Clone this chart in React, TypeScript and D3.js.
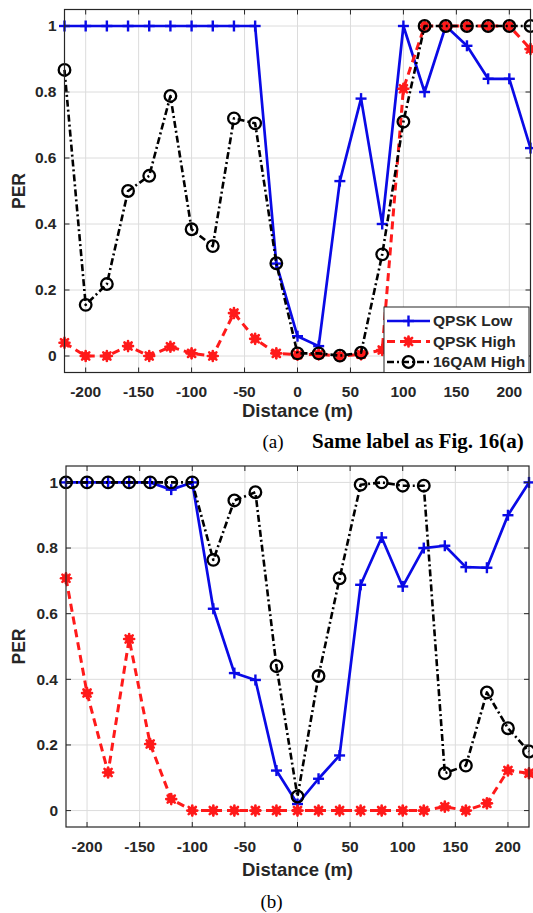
import React from "react";
import * as d3 from "d3";

// ---------- DATA ----------
const distances = [-220, -200, -180, -160, -140, -120, -100, -80, -60, -40, -20, 0, 20, 40, 60, 80, 100, 120, 140, 160, 180, 200, 220];
const xTicks = [-200, -150, -100, -50, 0, 50, 100, 150, 200];
const yTicks = [0, 0.2, 0.4, 0.6, 0.8, 1];
const yTickLabels = ["0", "0.2", "0.4", "0.6", "0.8", "1"];
const seriesNames = ["QPSK Low", "QPSK High", "16QAM High"];

// (a)
const aQpskLow = [1, 1, 1, 1, 1, 1, 1, 1, 1, 1, 0.28, 0.06, 0.03, 0.53, 0.78, 0.4, 1.0, 0.8, 1.0, 0.94, 0.84, 0.84, 0.63];
const aQpskHigh = [0.04, 0, 0, 0.03, 0, 0.028, 0.008, 0, 0.13, 0.052, 0.008, 0.004, 0.005, 0, 0.005, 0.018, 0.81, 1, 1, 1, 1, 1, 0.93];
const aQam16High = [0.867, 0.155, 0.218, 0.5, 0.546, 0.788, 0.384, 0.333, 0.72, 0.705, 0.281, 0.008, 0.008, 0.001, 0.01, 0.308, 0.71, 1, 1, 1, 1, 1, 1];

// (b)
const bQpskLow = [1, 1, 1, 1, 1, 0.978, 1, 0.615, 0.419, 0.398, 0.122, 0.02, 0.097, 0.168, 0.688, 0.832, 0.683, 0.8, 0.807, 0.742, 0.74, 0.9, 1.0];
const bQpskHigh = [0.708, 0.358, 0.116, 0.523, 0.203, 0.035, 0, 0, 0, 0, 0, 0, 0, 0, 0, 0, 0, 0, 0.012, 0, 0.022, 0.122, 0.114];
const bQam16High = [1, 1, 1, 1, 1, 1, 1, 0.764, 0.945, 0.97, 0.44, 0.043, 0.41, 0.708, 0.993, 1.0, 0.99, 0.99, 0.114, 0.137, 0.36, 0.251, 0.18];

// ---------- STYLE ----------
const W = 533;
const H = 913;
const SANS = "'Liberation Sans', Arial, Helvetica, sans-serif";
const SERIF = "'Liberation Serif', 'Times New Roman', Times, serif";
const AXIS = "#262626";
const GRID = "#dcdcdc";
const BLUE = "#0a0ae6";
const RED = "#ff1a1a";
const BLACK = "#000000";

type Kind = "plus" | "star" | "circle";
const styles: { color: string; dash: string | undefined; kind: Kind; width: number }[] = [
  { color: BLUE, dash: undefined, kind: "plus", width: 2.7 },
  { color: RED, dash: "8,5", kind: "star", width: 3 },
  { color: BLACK, dash: "7,3,2,3", kind: "circle", width: 2.6 },
];

function Marker({ kind, x, y, color }: { kind: Kind; x: number; y: number; color: string }) {
  if (kind === "plus") {
    const s = 5.5;
    return (
      <g stroke={color} strokeWidth={2.4}>
        <line x1={x - s} y1={y} x2={x + s} y2={y} />
        <line x1={x} y1={y - s} x2={x} y2={y + s} />
      </g>
    );
  }
  if (kind === "star") {
    const s = 5;
    const d = s * 0.72;
    return (
      <g stroke={color} strokeWidth={2.6} strokeLinecap="round">
        <circle cx={x} cy={y} r={4.2} fill={color} stroke="none" />
        <line x1={x - s} y1={y} x2={x + s} y2={y} />
        <line x1={x} y1={y - s} x2={x} y2={y + s} />
        <line x1={x - d} y1={y - d} x2={x + d} y2={y + d} />
        <line x1={x - d} y1={y + d} x2={x + d} y2={y - d} />
      </g>
    );
  }
  return <circle cx={x} cy={y} r={5.8} fill="none" stroke={color} strokeWidth={2.3} />;
}

type Layout = {
  left: number;
  right: number;
  top: number;
  bottom: number;
  tickLabelY: number;
  xLabelY: number;
  yLabelX: number;
};

function Chart({ layout, series, legend }: { layout: Layout; series: number[][]; legend: boolean }) {
  const x = d3.scaleLinear().domain([-220, 220]).range([layout.left, layout.right]);
  const y = d3.scaleLinear().domain([-0.05, 1.05]).range([layout.bottom, layout.top]);
  const tick = 5;
  const midY = (layout.top + layout.bottom) / 2;
  const midX = (layout.left + layout.right) / 2;

  const line = d3
    .line<[number, number]>()
    .x((d) => x(d[0]))
    .y((d) => y(d[1]));

  const legendBox = { x0: 384, x1: 529, y0: layout.bottom - 65.5, y1: layout.bottom };

  return (
    <g>
      <rect x={layout.left} y={layout.top} width={layout.right - layout.left} height={layout.bottom - layout.top} fill="#fff" />
      {/* grid */}
      {xTicks.map((t) => (
        <line key={"gx" + t} x1={x(t)} x2={x(t)} y1={layout.top} y2={layout.bottom} stroke={GRID} strokeWidth={1} />
      ))}
      {yTicks.map((t) => (
        <line key={"gy" + t} x1={layout.left} x2={layout.right} y1={y(t)} y2={y(t)} stroke={GRID} strokeWidth={1} />
      ))}
      {/* series */}
      {series.map((vals, i) => {
        const pts: [number, number][] = distances.map((d, j) => [d, vals[j]]);
        const st = styles[i];
        return (
          <g key={"s" + i}>
            <path d={line(pts) || ""} fill="none" stroke={st.color} strokeWidth={st.width} strokeDasharray={st.dash} strokeLinejoin="round" />
            {pts.map((p, j) => (
              <Marker key={j} kind={st.kind} x={x(p[0])} y={y(p[1])} color={st.color} />
            ))}
          </g>
        );
      })}
      {/* box */}
      <rect x={layout.left} y={layout.top} width={layout.right - layout.left} height={layout.bottom - layout.top} fill="none" stroke={AXIS} strokeWidth={1.2} />
      {xTicks.map((t) => (
        <g key={"tx" + t} stroke={AXIS} strokeWidth={1}>
          <line x1={x(t)} x2={x(t)} y1={layout.bottom} y2={layout.bottom - tick} />
          <line x1={x(t)} x2={x(t)} y1={layout.top} y2={layout.top + tick} />
        </g>
      ))}
      {yTicks.map((t) => (
        <g key={"ty" + t} stroke={AXIS} strokeWidth={1}>
          <line x1={layout.left} x2={layout.left + tick} y1={y(t)} y2={y(t)} />
          <line x1={layout.right} x2={layout.right - tick} y1={y(t)} y2={y(t)} />
        </g>
      ))}
      {/* tick labels */}
      {xTicks.map((t) => (
        <text key={"lx" + t} x={x(t)} y={layout.tickLabelY} textAnchor="middle" fontFamily={SANS} fontWeight="bold" fontSize={15.5} fill={AXIS}>
          {String(t)}
        </text>
      ))}
      {yTicks.map((t, i) => (
        <text key={"ly" + t} x={layout.left - 8} y={y(t)} dy="0.35em" textAnchor="end" fontFamily={SANS} fontWeight="bold" fontSize={15.5} fill={AXIS}>
          {yTickLabels[i]}
        </text>
      ))}
      <text x={midX} y={layout.xLabelY} textAnchor="middle" fontFamily={SANS} fontWeight="bold" fontSize={18.5} fill={AXIS}>
        Distance (m)
      </text>
      <text transform={`translate(${layout.yLabelX},${midY}) rotate(-90)`} textAnchor="middle" fontFamily={SANS} fontWeight="bold" fontSize={17.5} fill={AXIS}>
        PER
      </text>
      {legend && (
        <g>
          <rect x={legendBox.x0} y={legendBox.y0} width={legendBox.x1 - legendBox.x0} height={legendBox.y1 - legendBox.y0} fill="#fff" stroke={AXIS} strokeWidth={1} />
          {seriesNames.map((name, i) => {
            const cy = legendBox.y0 + 14 + i * 20.5;
            const st = styles[i];
            return (
              <g key={"lg" + i}>
                <line x1={387} x2={430} y1={cy} y2={cy} stroke={st.color} strokeWidth={st.width} strokeDasharray={st.dash} />
                <Marker kind={st.kind} x={408.5} y={cy} color={st.color} />
                <text x={433} y={cy} dy="0.35em" fontFamily={SANS} fontWeight="bold" fontSize={15.5} fill={AXIS}>
                  {name}
                </text>
              </g>
            );
          })}
        </g>
      )}
    </g>
  );
}

const layoutA: Layout = { left: 64.5, right: 530.5, top: 9.5, bottom: 372.5, tickLabelY: 397, xLabelY: 417, yLabelX: 25 };
const layoutB: Layout = { left: 66, right: 529, top: 466, bottom: 827, tickLabelY: 851.5, xLabelY: 876, yLabelX: 25 };

export default function App() {
  return (
    <svg
      width={W}
      height={H}
      viewBox={`0 0 ${W} ${H}`}
      style={{ position: "absolute", left: 0, top: 0, background: "#fff" }}
    >
      <rect x={0} y={0} width={W} height={H} fill="#fff" />
      <Chart layout={layoutA} series={[aQpskLow, aQpskHigh, aQam16High]} legend={true} />
      <text x={273} y={448} textAnchor="middle" fontFamily={SERIF} fontSize={19} fill="#000">
        (a)
      </text>
      <text x={312} y={448} fontFamily={SERIF} fontWeight="bold" fontSize={21} fill="#000">
        Same label as Fig. 16(a)
      </text>
      <Chart layout={layoutB} series={[bQpskLow, bQpskHigh, bQam16High]} legend={false} />
      <text x={271.5} y={907.5} textAnchor="middle" fontFamily={SERIF} fontSize={19} fill="#000">
        (b)
      </text>
    </svg>
  );
}
